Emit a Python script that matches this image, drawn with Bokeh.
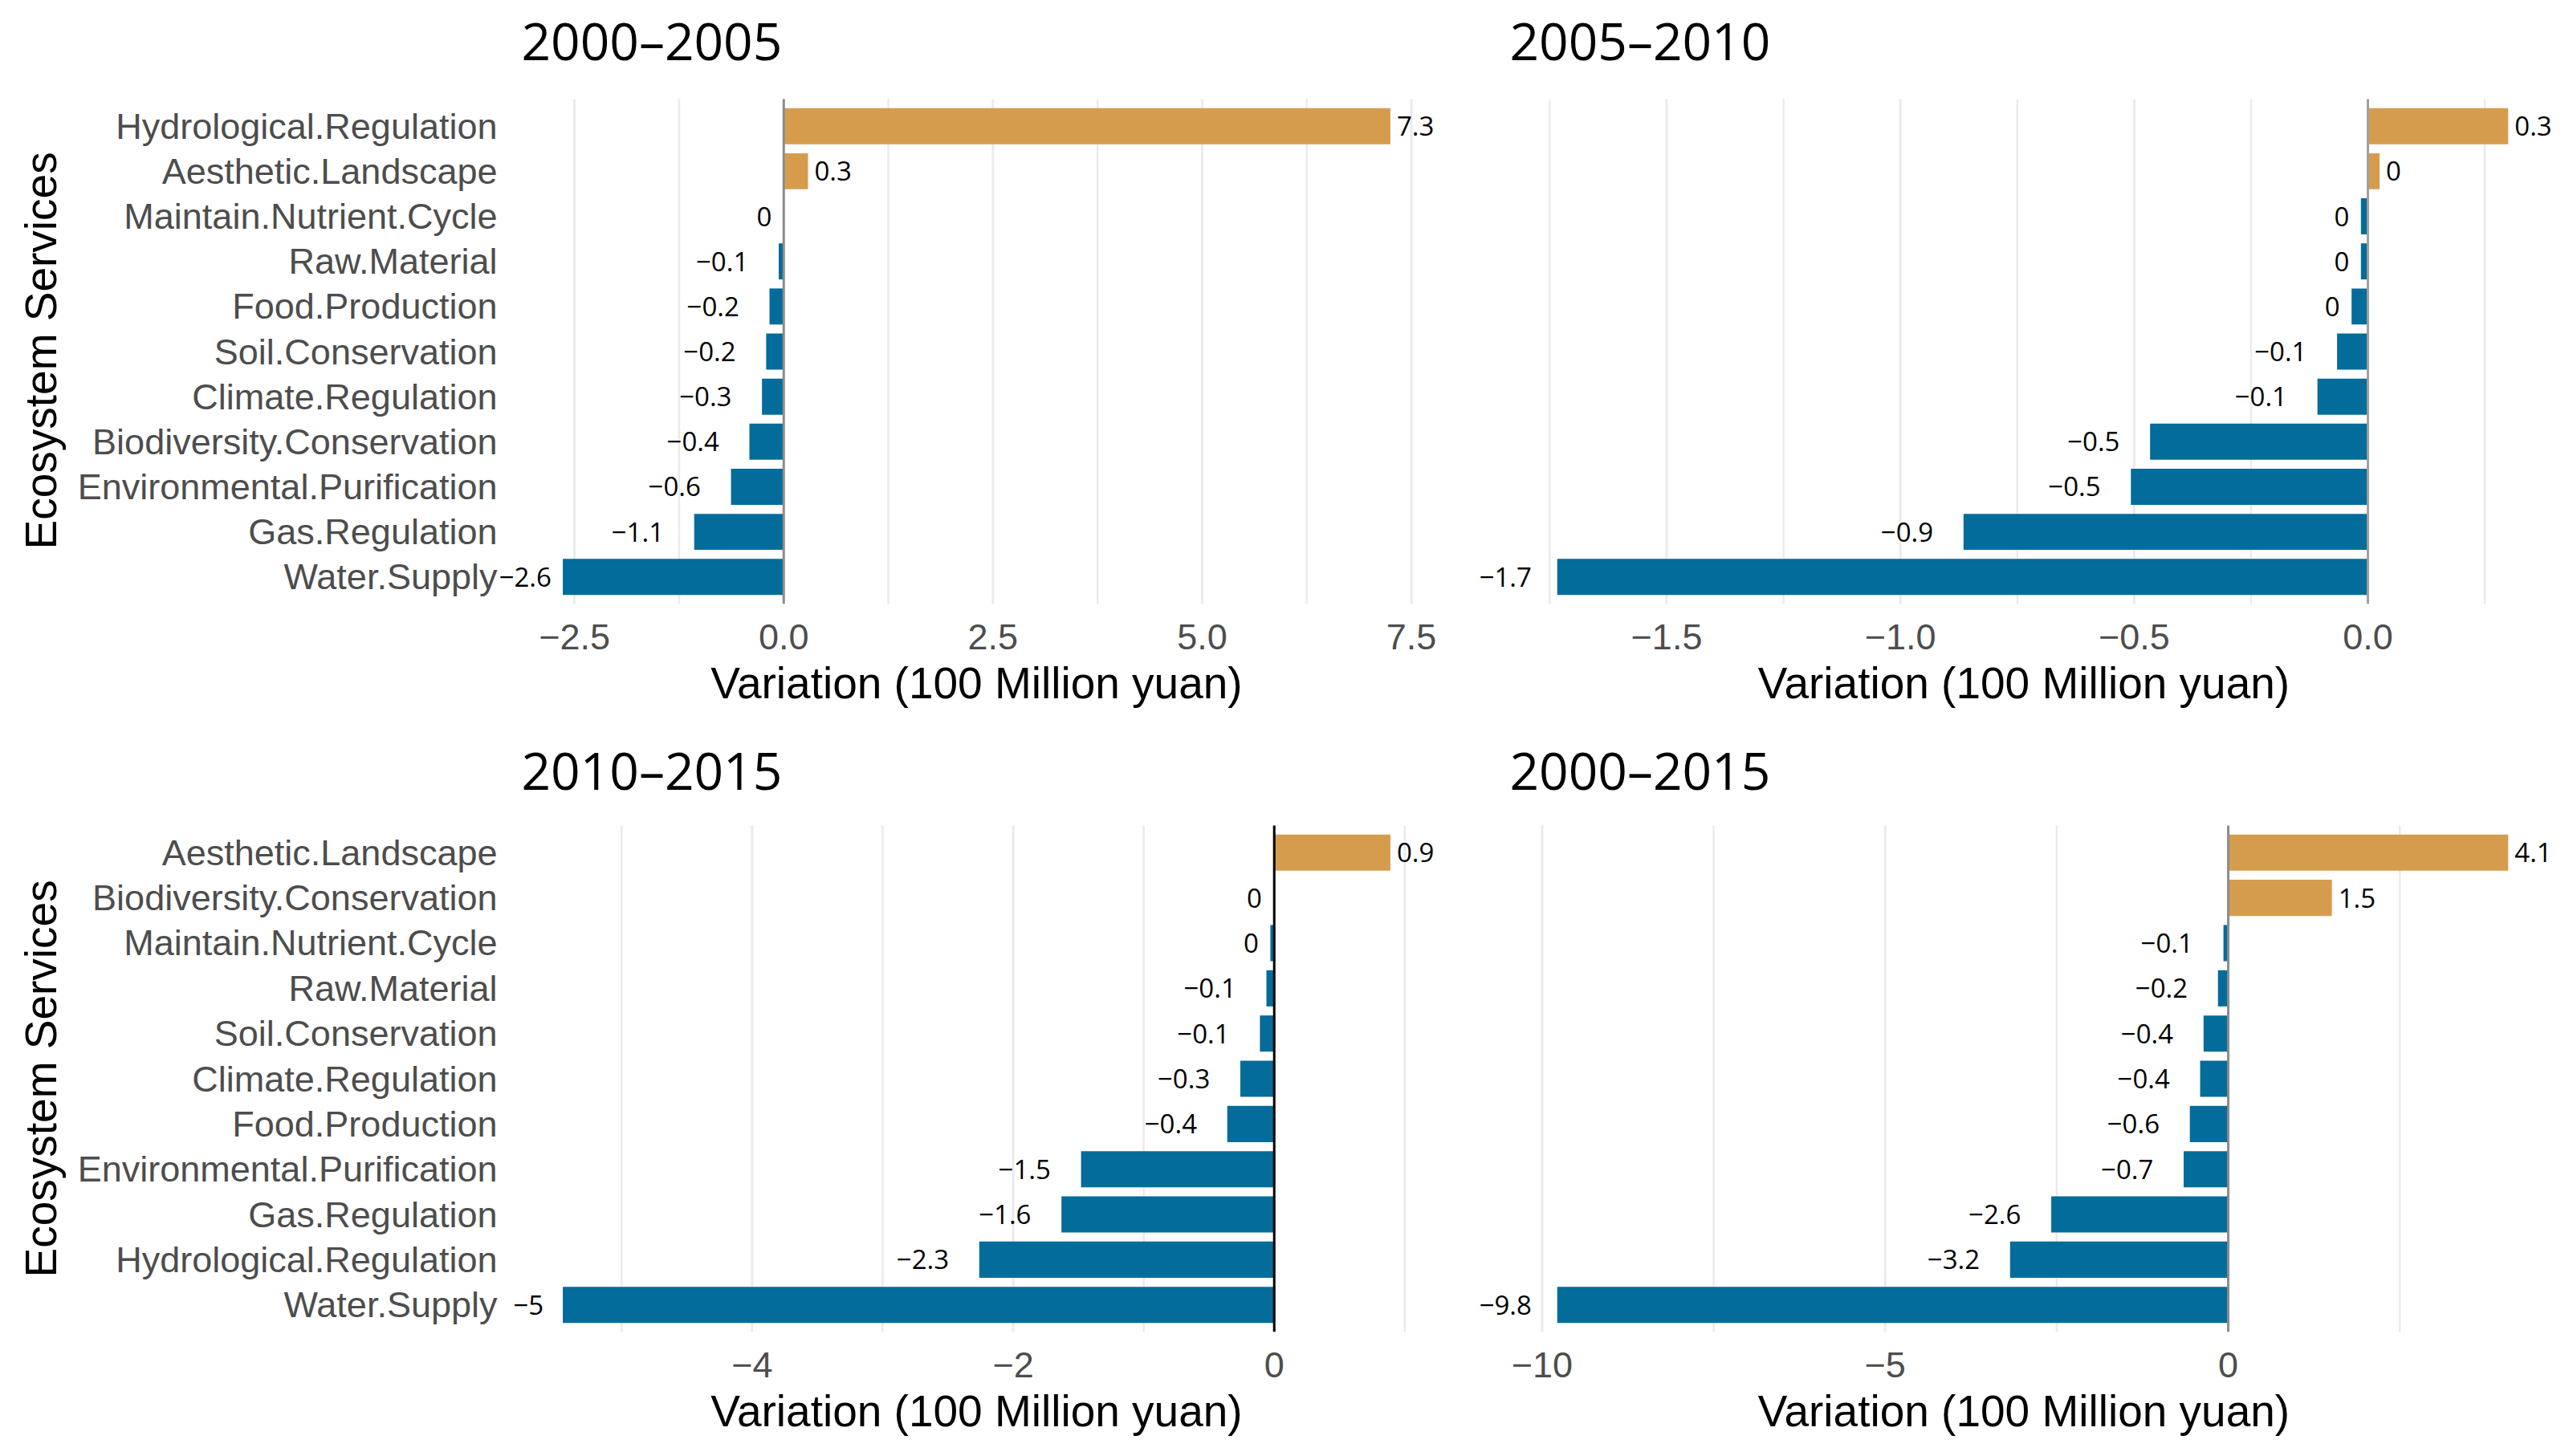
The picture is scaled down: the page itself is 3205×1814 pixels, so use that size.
from bokeh.plotting import figure
from bokeh.layouts import column, row
from bokeh.models import (ColumnDataSource, LabelSet, Label, Title, FixedTicker,
                          CustomJSTickFormatter, Range1d)
from bokeh.core.properties import field, value
from bokeh.embed import file_html
from bokeh.resources import INLINE

# ---------------- data ----------------
titles = ["2000\u20132005", "2005\u20132010", "2010\u20132015", "2000\u20132015"]

cats_2000_2005 = ["Hydrological.Regulation", "Aesthetic.Landscape", "Maintain.Nutrient.Cycle",
                  "Raw.Material", "Food.Production", "Soil.Conservation", "Climate.Regulation",
                  "Biodiversity.Conservation", "Environmental.Purification", "Gas.Regulation",
                  "Water.Supply"]
vals_2000_2005 = [7.25, 0.29, -0.005, -0.06, -0.17, -0.21, -0.26, -0.41, -0.63, -1.07, -2.64]
labs_2000_2005 = ["7.3", "0.3", "0", "\u22120.1", "\u22120.2", "\u22120.2", "\u22120.3",
                  "\u22120.4", "\u22120.6", "\u22121.1", "\u22122.6"]

# category names are not printed on the right-hand panels
cats_2005_2010 = ["Hydrological.Regulation", "Aesthetic.Landscape", "Maintain.Nutrient.Cycle",
                  "Raw.Material", "Food.Production", "Soil.Conservation", "Climate.Regulation",
                  "Biodiversity.Conservation", "Environmental.Purification", "Gas.Regulation",
                  "Water.Supply"]
vals_2005_2010 = [0.30, 0.025, -0.015, -0.015, -0.035, -0.066, -0.108, -0.466, -0.507, -0.865, -1.734]
labs_2005_2010 = ["0.3", "0", "0", "0", "0", "\u22120.1", "\u22120.1", "\u22120.5", "\u22120.5",
                  "\u22120.9", "\u22121.7"]

cats_2010_2015 = ["Aesthetic.Landscape", "Biodiversity.Conservation", "Maintain.Nutrient.Cycle",
                  "Raw.Material", "Soil.Conservation", "Climate.Regulation", "Food.Production",
                  "Environmental.Purification", "Gas.Regulation", "Hydrological.Regulation",
                  "Water.Supply"]
vals_2010_2015 = [0.89, -0.005, -0.03, -0.06, -0.11, -0.26, -0.36, -1.48, -1.63, -2.26, -5.45]
labs_2010_2015 = ["0.9", "0", "0", "\u22120.1", "\u22120.1", "\u22120.3", "\u22120.4", "\u22121.5",
                  "\u22121.6", "\u22122.3", "\u22125"]

cats_2000_2015 = ["Hydrological.Regulation", "Aesthetic.Landscape", "Maintain.Nutrient.Cycle",
                  "Raw.Material", "Food.Production", "Soil.Conservation", "Climate.Regulation",
                  "Biodiversity.Conservation", "Environmental.Purification", "Gas.Regulation",
                  "Water.Supply"]
vals_2000_2015 = [4.08, 1.51, -0.07, -0.15, -0.36, -0.41, -0.56, -0.65, -2.58, -3.18, -9.78]
labs_2000_2015 = ["4.1", "1.5", "\u22120.1", "\u22120.2", "\u22120.4", "\u22120.4", "\u22120.6",
                  "\u22120.7", "\u22122.6", "\u22123.2", "\u22129.8"]

major_ticks = [[-2.5, 0, 2.5, 5, 7.5], [-1.5, -1.0, -0.5, 0.0], [-4, -2, 0], [-10, -5, 0]]
minor_ticks = [[-1.25, 1.25, 3.75, 6.25], [-1.75, -1.25, -0.75, -0.25, 0.25],
               [-5, -3, -1, 1], [-7.5, -2.5, 2.5]]
decimals = [1, 1, 0, 0]

x_title = "Variation (100 Million yuan)"
y_title = "Ecosystem Services"

# ---------------- style ----------------
POS = "#D69C4E"
NEG = "#046C9A"
GRID = "#EBEBEB"
TICK_COL = "#4D4D4D"
AX_FONT = "Liberation Sans"
LAB_FONT = "Open Sans"
LAB_FS = 33


def text_w(s, fs):
    return sum(0.266 if c == "." else 0.572 for c in s) * fs


def make_panel(title, cats, vals, labs, majors, minors, dec, show_y, zero_col,
               gw, gh, ext_l, ext_r, ext_t, title_gap, bl, br, bb):
    """gw x gh is the visible panel; the frame is widened by ext_l/ext_r and
    raised by ext_t so that value labels and the title are not clipped."""
    n = len(cats)
    lo, hi = min(min(vals), 0), max(max(vals), 0)
    pad = 0.05 * (hi - lo)
    x0, x1 = lo - pad, hi + pad
    ppx = gw / (x1 - x0)
    y_lo, y_hi = 0.4, n + 0.6
    upp = (y_hi - y_lo) / gh
    ypos = [n - i for i in range(n)]
    names_bottom_up = list(reversed(cats))

    p = figure(x_range=Range1d(x0 - ext_l / ppx, x1 + ext_r / ppx),
               y_range=Range1d(y_lo, y_hi + ext_t * upp),
               frame_width=gw + ext_l + ext_r, frame_height=gh + ext_t,
               min_border_left=bl, min_border_right=br, min_border_top=0, min_border_bottom=bb,
               output_backend="svg", toolbar_location=None)
    p.outline_line_color = None
    p.background_fill_color = "white"
    p.border_fill_color = "white"
    p.xgrid.visible = False
    p.ygrid.visible = False

    # grid lines inside the panel only
    p.segment(x0=minors, x1=minors, y0=y_lo, y1=y_hi, line_color=GRID, line_width=2.5)
    p.segment(x0=majors, x1=majors, y0=y_lo, y1=y_hi, line_color=GRID, line_width=3)

    cols = [POS if v > 0 else NEG for v in vals]
    aligns, offs = [], []
    for v, s in zip(vals, labs):
        w = text_w(s, LAB_FS)
        if v > 0:
            aligns.append("left")
            offs.append(8)
        else:
            end_px = (v - x0) * ppx
            off = -(0.5 * w + 5)
            off = max(off, w - (ext_l - 2) - end_px)
            aligns.append("right")
            offs.append(off)
    src = ColumnDataSource(dict(y=ypos, val=vals, lab=labs, col=cols, align=aligns, off=offs))
    p.hbar(y="y", left=0, right="val", height=0.8, color="col", line_color=None, source=src)
    p.segment(x0=[0], x1=[0], y0=[y_lo], y1=[y_hi], line_color=zero_col, line_width=3)

    p.add_layout(LabelSet(x="val", y="y", text="lab", source=src, x_offset=field("off"),
                          text_align=field("align"), text_baseline="middle",
                          text_font=value(LAB_FONT), text_font_size=value(f"{LAB_FS}px"),
                          text_color="black"))

    # panel title above the panel's top-left corner
    p.add_layout(Label(x=x0, y=y_hi + title_gap * upp, text=title, text_align="left",
                       text_baseline="middle", text_font=LAB_FONT, text_font_size="64px",
                       text_color="black"))

    p.xaxis.ticker = FixedTicker(ticks=majors, minor_ticks=[])
    p.xaxis.formatter = CustomJSTickFormatter(
        args=dict(dec=dec),
        code="return (tick < -1e-9 ? '\u2212' : '') + Math.abs(tick).toFixed(dec);")
    p.xaxis.axis_line_color = None
    p.xaxis.major_tick_line_color = None
    p.xaxis.minor_tick_line_color = None
    p.xaxis.major_tick_out = 0
    p.xaxis.minor_tick_out = 0
    p.xaxis.major_label_standoff = 25
    p.xaxis.major_label_text_font = AX_FONT
    p.xaxis.major_label_text_font_size = "45px"
    p.xaxis.major_label_text_color = TICK_COL
    p.xaxis.axis_label = x_title
    p.xaxis.axis_label_text_font = AX_FONT
    p.xaxis.axis_label_text_font_size = "55px"
    p.xaxis.axis_label_text_font_style = "normal"
    p.xaxis.axis_label_text_color = "black"
    p.xaxis.axis_label_standoff = 8

    if show_y:
        p.yaxis.ticker = FixedTicker(ticks=ypos, minor_ticks=[])
        p.yaxis.formatter = CustomJSTickFormatter(
            args=dict(names=names_bottom_up),
            code="const i = Math.round(tick) - 1; return (i >= 0 && i < names.length) ? names[i] : '';")
        p.yaxis.axis_line_color = None
        p.yaxis.major_tick_line_color = None
        p.yaxis.minor_tick_line_color = None
        p.yaxis.major_tick_out = 0
        p.yaxis.minor_tick_out = 0
        p.yaxis.major_label_standoff = 30 - ext_l
        p.yaxis.major_label_text_font = AX_FONT
        p.yaxis.major_label_text_font_size = "45px"
        p.yaxis.major_label_text_color = TICK_COL
        p.add_layout(Title(text=y_title, align="left", offset=68, standoff=24,
                           text_font=AX_FONT, text_font_size="55px", text_font_style="normal",
                           text_color="black"), "left")
    else:
        p.yaxis.visible = False
    return p


# top row: visible panels span y 123..752, bottom row 1028..1659
p1 = make_panel(titles[0], cats_2000_2005, vals_2000_2005, labs_2000_2005, major_ticks[0],
                minor_ticks[0], decimals[0], True, "#8C8C8C",
                1134, 629, 30, 30, 123, 73, 619, 17, 150)
p2 = make_panel(titles[1], cats_2005_2010, vals_2005_2010, labs_2005_2010, major_ticks[1],
                minor_ticks[1], decimals[1], False, "#A0A0A0",
                1303, 629, 40, 18, 123, 73, 10, 0, 150)
p3 = make_panel(titles[2], cats_2010_2015, vals_2010_2015, labs_2010_2015, major_ticks[2],
                minor_ticks[2], decimals[2], True, "#000000",
                1134, 631, 30, 30, 126, 69, 619, 17, 150)
p4 = make_panel(titles[3], cats_2000_2015, vals_2000_2015, labs_2000_2015, major_ticks[3],
                minor_ticks[3], decimals[3], False, "#8C8C8C",
                1303, 631, 40, 18, 126, 69, 10, 0, 150)

layout = column(row(p1, p2), row(p3, p4))
open("out.html", "w").write(file_html(layout, INLINE))
